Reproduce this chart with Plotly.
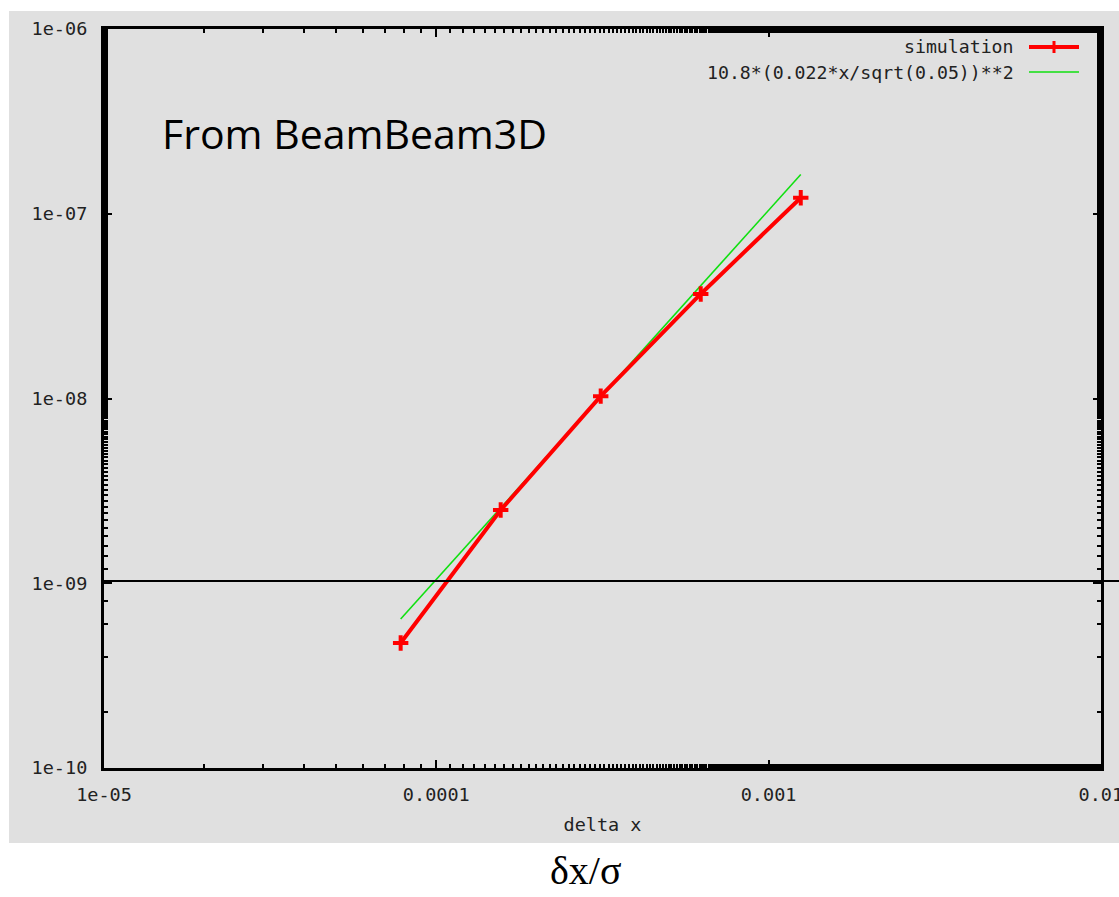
import plotly.graph_objects as go

# Data
sim_x = [7.8125e-5, 1.5625e-4, 3.125e-4, 6.25e-4, 1.25e-3]
sim_y = [4.75e-10, 2.49e-9, 1.03e-8, 3.68e-8, 1.22e-7]
fit_x = [7.8125e-5, 1.5625e-4, 3.125e-4, 6.25e-4, 1.25e-3]
fit_y = [6.4e-10, 2.55e-9, 1.02e-8, 4.08e-8, 1.63e-7]
hline_y = 1.03e-9

x_tickvals = [1e-5, 1e-4, 1e-3, 1e-2]
x_ticktext = ["1e-05", "0.0001", "0.001", "0.01"]
y_tickvals = [1e-10, 1e-9, 1e-8, 1e-7, 1e-6]
y_ticktext = ["1e-10", "1e-09", "1e-08", "1e-07", "1e-06"]

legend_labels = ["simulation", "10.8*(0.022*x/sqrt(0.05))**2"]

GRAY = "#e0e0e0"
MONO = "DejaVu Sans Mono"

fig = go.Figure()
fig.add_trace(go.Scatter(
    x=fit_x, y=fit_y, mode="lines",
    line=dict(color="#10e010", width=1.6),
    showlegend=False,
))
fig.add_trace(go.Scatter(
    x=sim_x, y=sim_y, mode="lines+markers",
    line=dict(color="#ff0000", width=4),
    marker=dict(symbol="cross-thin", size=11, line=dict(color="#ff0000", width=4)),
    showlegend=False,
))

axis_common = dict(
    type="log",
    showgrid=False,
    zeroline=False,
    showline=True,
    linecolor="black",
    linewidth=3,
    mirror="allticks",
    ticks="inside",
    ticklen=8,
    tickwidth=2,
    tickcolor="black",
    tickfont=dict(family=MONO, size=18.5, color="#222222"),
    minor=dict(ticks="inside", ticklen=4, tickwidth=2, tickcolor="black", showgrid=False),
    ticklabeloverflow="allow",
    automargin=False,
)

fig.update_xaxes(
    **axis_common,
    range=[-5, -1.9995],
    tickvals=x_tickvals, ticktext=x_ticktext,
    ticklabelstandoff=8,
    title=dict(text="delta x", font=dict(family=MONO, size=18.5, color="#222222"), standoff=14),
)
fig.update_yaxes(
    **axis_common,
    range=[-10, -6],
    tickvals=y_tickvals, ticktext=y_ticktext,
    ticklabelstandoff=10,
)

# gray screenshot background
fig.add_shape(type="rect", xref="paper", yref="paper",
              x0=-0.0953, x1=1.02, y0=-0.1015, y1=1.0243,
              fillcolor=GRAY, line=dict(width=0), layer="below")

# horizontal reference line
fig.add_shape(type="line", xref="paper", yref="y",
              x0=0, x1=1.02, y0=hline_y, y1=hline_y,
              line=dict(color="black", width=2))

# gnuplot-style legend (text left of sample)
leg_text_x = 1016
leg_line_x0, leg_line_x1 = 1029, 1079
leg_y = [47, 72]
W, H, L, T = 997, 739, 104, 29
def px(xp):
    return (xp - L) / W
def py(yp):
    return 1 - (yp - T) / H

for i, lab in enumerate(legend_labels):
    fig.add_annotation(x=px(leg_text_x), y=py(leg_y[i]), xref="paper", yref="paper",
                       text=lab, showarrow=False, xanchor="right", yanchor="middle",
                       font=dict(family=MONO, size=18.2, color="#222222"))
fig.add_shape(type="line", xref="paper", yref="paper",
              x0=px(leg_line_x0), x1=px(leg_line_x1), y0=py(leg_y[0]), y1=py(leg_y[0]),
              line=dict(color="#ff0000", width=4))
fig.add_shape(type="line", xref="paper", yref="paper",
              x0=px(1054), x1=px(1054), y0=py(leg_y[0] - 6), y1=py(leg_y[0] + 6),
              line=dict(color="#ff0000", width=3))
fig.add_shape(type="line", xref="paper", yref="paper",
              x0=px(leg_line_x0), x1=px(leg_line_x1), y0=py(leg_y[1]), y1=py(leg_y[1]),
              line=dict(color="#10e010", width=1.6))

fig.add_annotation(x=px(160), y=py(133), xref="paper", yref="paper",
                   text="From BeamBeam3D", showarrow=False, xanchor="left", yanchor="middle",
                   font=dict(family="Open Sans", size=41, color="black"))

fig.add_annotation(x=px(586), y=py(870), xref="paper", yref="paper",
                   text="δx/σ", showarrow=False, xanchor="center", yanchor="middle",
                   font=dict(family="Liberation Serif", size=40, color="black"))

fig.update_layout(
    width=1119, height=897,
    margin=dict(l=104, r=18, t=29, b=129),
    paper_bgcolor="white",
    plot_bgcolor=GRAY,
)

fig.write_html("out.html")
